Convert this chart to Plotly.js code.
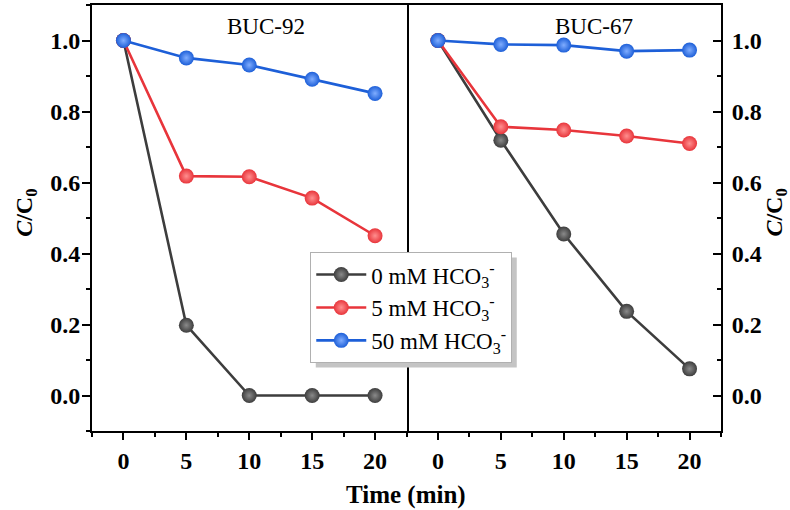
<!DOCTYPE html>
<html><head><meta charset="utf-8">
<script src="https://cdn.plot.ly/plotly-3.0.1.min.js"></script>
<style>body{margin:0;background:#fff}#chart{width:790px;height:510px}</style>
</head><body><div id="chart"></div>
<script>
// ---- data ----
const time = [0, 5, 10, 15, 20];
const seriesNames = ['0 mM HCO<sub>3</sub><sup>-</sup>', '5 mM HCO<sub>3</sub><sup>-</sup>', '50 mM HCO<sub>3</sub><sup>-</sup>'];
const buc92_0mM  = [1.0, 0.198, 0.0, 0.0, 0.0];
const buc92_5mM  = [1.0, 0.618, 0.616, 0.556, 0.450];
const buc92_50mM = [1.0, 0.951, 0.931, 0.891, 0.851];
const buc67_0mM  = [1.0, 0.719, 0.455, 0.237, 0.075];
const buc67_5mM  = [1.0, 0.757, 0.748, 0.731, 0.710];
const buc67_50mM = [1.0, 0.989, 0.987, 0.970, 0.973];
const panelLabels = ['BUC-92', 'BUC-67'];

const colors = ['#3d3d3d', '#e8353b', '#1d5fd8'];
const glow = ['#8a8a8a', '#ff8f8f', '#80adff'];
const FONT = 'Liberation Serif, Times New Roman, serif';

function tr(y, i, xa, ya, show) {
  return {
    x: time, y: y, xaxis: xa, yaxis: ya, type: 'scatter', mode: 'lines+markers',
    name: seriesNames[i], showlegend: show, legendgroup: 'g' + i,
    line: {color: colors[i], width: 2.6},
    marker: {size: 15, color: colors[i], gradient: {type: 'radial', color: glow[i]}, line: {width: 0}}
  };
}
const data = [
  tr(buc92_0mM, 0, 'x', 'y', true),
  tr(buc92_5mM, 1, 'x', 'y', true),
  tr(buc92_50mM, 2, 'x', 'y', true),
  tr(buc67_0mM, 0, 'x2', 'y2', false),
  tr(buc67_5mM, 1, 'x2', 'y2', false),
  tr(buc67_50mM, 2, 'x2', 'y2', false)
];

const tickFont = {family: FONT, size: 24, color: '#000', weight: 'bold'};
const xcommon = {
  range: [-2.5, 22.5], dtick: 5, tick0: 0, ticks: 'outside', ticklen: 7, tickwidth: 2, tickcolor: '#000',
  showline: true, linecolor: '#000', linewidth: 2, showgrid: false, zeroline: false,
  tickfont: tickFont, minor: {dtick: 2.5, ticks: 'outside', ticklen: 4, tickwidth: 2, tickcolor: '#000'}
};
const ycommon = {
  range: [-0.1, 1.1], dtick: 0.2, tick0: 0, ticks: 'outside', ticklen: 8, tickwidth: 2, tickcolor: '#000',
  showline: true, linecolor: '#000', linewidth: 2, showgrid: false, zeroline: false,
  tickfont: tickFont, tickformat: '.1f', ticklabelstandoff: -3,
  minor: {dtick: 0.1, ticks: 'outside', ticklen: 4, tickwidth: 2, tickcolor: '#000'}
};

const layout = {
  width: 790, height: 510,
  margin: {l: 92, r: 69, t: 5, b: 79},
  paper_bgcolor: '#ffffff', plot_bgcolor: '#ffffff',
  font: {family: FONT, color: '#000'},
  xaxis: Object.assign({}, xcommon, {domain: [0, 0.5], anchor: 'y', mirror: true}),
  xaxis2: Object.assign({}, xcommon, {domain: [0.5, 1], anchor: 'y2', mirror: true}),
  yaxis: Object.assign({}, ycommon, {anchor: 'x', side: 'left', mirror: true}),
  yaxis2: Object.assign({}, ycommon, {anchor: 'x2', side: 'right', ticks: 'inside', ticklabelstandoff: 4,
    minor: {dtick: 0.1, ticks: 'inside', ticklen: 4, tickwidth: 2, tickcolor: '#000'}}),
  legend: {
    x: 0.347, y: 0.42, xanchor: 'left', yanchor: 'top',
    bgcolor: '#ffffff', bordercolor: '#b0b0b0', borderwidth: 1,
    font: {family: FONT, size: 23, color: '#000'}, itemwidth: 50, tracegroupgap: 0
  },
  annotations: [
    {text: panelLabels[0], xref: 'x', yref: 'y', x: 11.3, y: 1.04, showarrow: false, xanchor: 'center', yanchor: 'middle', font: {family: FONT, size: 23, color: '#000'}},
    {text: panelLabels[1], xref: 'x2', yref: 'y2', x: 12.4, y: 1.04, showarrow: false, xanchor: 'center', yanchor: 'middle', font: {family: FONT, size: 23, color: '#000'}},
    {text: '<b>Time (min)</b>', xref: 'paper', yref: 'paper', x: 0.4992, y: -0.15, showarrow: false, xanchor: 'center', yanchor: 'middle', font: {family: FONT, size: 25, color: '#000'}},
    {text: '<b><i>C</i>/C<sub>0</sub></b>', xref: 'paper', yref: 'paper', x: -0.105, y: 0.512, textangle: -90, showarrow: false, xanchor: 'center', yanchor: 'middle', font: {family: FONT, size: 24, color: '#000'}},
    {text: '<b><i>C</i>/C<sub>0</sub></b>', xref: 'paper', yref: 'paper', x: 1.087, y: 0.512, textangle: -90, showarrow: false, xanchor: 'center', yanchor: 'middle', font: {family: FONT, size: 24, color: '#000'}}
  ]
};

Plotly.newPlot('chart', data, layout, {displayModeBar: false, staticPlot: true}).then(function (gd) {
  // drop shadow behind the legend box
  const bg = gd.querySelector('.legend .bg');
  if (!bg) return;
  const r = bg.getBoundingClientRect();
  const c = gd.getBoundingClientRect();
  const fs = gd._fullLayout._size;
  const off = 5;
  const px = v => (v - c.left - fs.l) / fs.w;
  const py = v => 1 - (v - c.top - fs.t) / fs.h;
  Plotly.relayout(gd, {shapes: [{
    type: 'rect', xref: 'paper', yref: 'paper', layer: 'above',
    x0: px(r.left + off), x1: px(r.right + off), y0: py(r.bottom + off), y1: py(r.top + off),
    fillcolor: '#c4c4c4', line: {width: 0}
  }]});
});
</script></body></html>
